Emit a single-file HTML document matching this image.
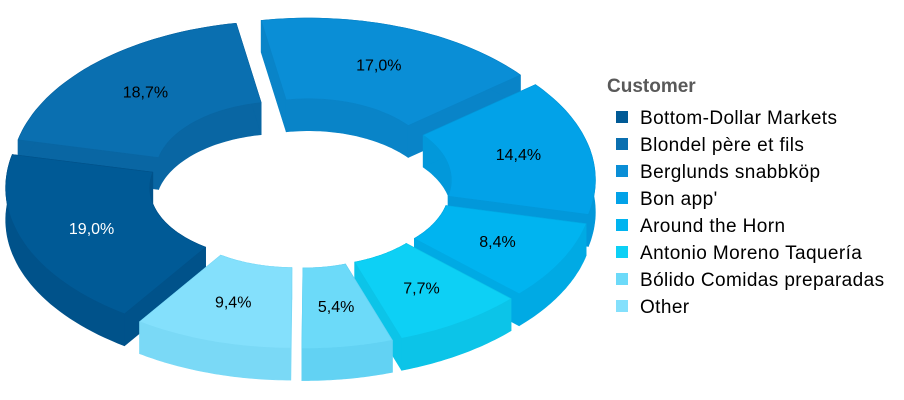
<!DOCTYPE html>
<html><head><meta charset="utf-8"><style>
body{margin:0;background:#fff;}
svg{display:block;font-family:"Liberation Sans",sans-serif;}
</style></head><body>
<svg id="chart" width="904" height="400" viewBox="0 0 904 400">
<g id="slices"></g>
<g id="legend">
<text x="607" y="92" font-size="19" font-weight="bold" fill="#595959">Customer</text>
</g>
</svg>
<script>
const categories=["Bottom-Dollar Markets","Blondel père et fils","Berglunds snabbköp","Bon app'","Around the Horn","Antonio Moreno Taquería","Bólido Comidas preparadas","Other"];
const values=[19.0,18.7,17.0,14.4,8.4,7.7,5.4,9.4];
const valueLabels=["19,0%","18,7%","17,0%","14,4%","8,4%","7,7%","5,4%","9,4%"];
const colors=["#005a96","#0a6fb0","#0a8ed6","#02a2e8","#00b4f0","#0dd0f5","#6cdaf9","#84e0fc"];
const sideColors=["#00528a","#0966a3","#0984c8","#0298da","#00aae4","#0cc4e8","#62d2f3","#7ad9f6"];
const labelColors=["#fff","#000","#000","#000","#000","#000","#000","#000"];
const NS="http://www.w3.org/2000/svg";
const cx=300,cy=183,R=272,Rin=128,K=0.56,depth=32,expl=24;
const total=values.reduce((a,b)=>a+b,0);
const startDeg=-10-(values[0]+values[1])/total*360;
function pt(th,r,ox,oy,d){return [cx+ox+r*Math.sin(th),cy+oy-r*K*Math.cos(th)+d];}
function arcPts(a0,a1,r,ox,oy,d){const n=40,p=[];for(let i=0;i<=n;i++){const t=a0+(a1-a0)*i/n;p.push(pt(t,r,ox,oy,d));}return p;}
function poly(points,fill,stroke,name){const e=document.createElementNS(NS,"polygon");
e.setAttribute("points",points.map(p=>p[0].toFixed(1)+","+p[1].toFixed(1)).join(" "));
e.setAttribute("fill",fill);e.setAttribute("stroke",stroke);e.setAttribute("stroke-width","0.6");e.setAttribute("stroke-linejoin","round");


return e;}
const g=document.getElementById("slices");
let acc=0;const sl=[];
values.forEach((v,i)=>{const a0=(startDeg+acc/total*360)*Math.PI/180;acc+=v;const a1=(startDeg+acc/total*360)*Math.PI/180;
const mid=(a0+a1)/2;sl.push({i,a0,a1,mid,ox:expl*Math.sin(mid),oy:-expl*K*Math.cos(mid)});});
sl.slice().sort((a,b)=>Math.cos(b.mid)-Math.cos(a.mid)).forEach(s=>{
const grp=document.createElementNS(NS,"g");


const c=colors[s.i],sc=sideColors[s.i];
const oT=arcPts(s.a0,s.a1,R,s.ox,s.oy,0),oB=arcPts(s.a0,s.a1,R,s.ox,s.oy,depth);
const iT=arcPts(s.a0,s.a1,Rin,s.ox,s.oy,0),iB=arcPts(s.a0,s.a1,Rin,s.ox,s.oy,depth);
grp.appendChild(poly(iT.concat(iB.slice().reverse()),sc,sc,"inner-wall"));
[s.a0,s.a1].forEach(a=>{grp.appendChild(poly([pt(a,Rin,s.ox,s.oy,0),pt(a,R,s.ox,s.oy,0),pt(a,R,s.ox,s.oy,depth),pt(a,Rin,s.ox,s.oy,depth)],sc,sc,"end-cap"));});
grp.appendChild(poly(oT.concat(oB.slice().reverse()),sc,sc,"outer-wall"));
grp.appendChild(poly(oT.concat(iT.slice().reverse()),c,sc,"top-face"));
const lp=pt(s.mid,(R+Rin)/2,s.ox,s.oy,0);
const t=document.createElementNS(NS,"text");
t.setAttribute("x",lp[0].toFixed(1));t.setAttribute("y",(lp[1]+5).toFixed(1));
t.setAttribute("text-anchor","middle");t.setAttribute("font-size","16");t.setAttribute("fill",labelColors[s.i]);
t.textContent=valueLabels[s.i];


grp.appendChild(t);
g.appendChild(grp);});
const lg=document.getElementById("legend");
categories.forEach((cat,i)=>{const y=117+i*27;
const r=document.createElementNS(NS,"rect");
r.setAttribute("x",616);r.setAttribute("y",y-6);r.setAttribute("width",12);r.setAttribute("height",12);r.setAttribute("fill",colors[i]);


lg.appendChild(r);
const t=document.createElementNS(NS,"text");
t.setAttribute("x",640);t.setAttribute("y",y+7);t.setAttribute("font-size","19");t.setAttribute("letter-spacing","0.4");t.setAttribute("fill","#000");
t.textContent=cat;


lg.appendChild(t);});
</script>
</body></html>
